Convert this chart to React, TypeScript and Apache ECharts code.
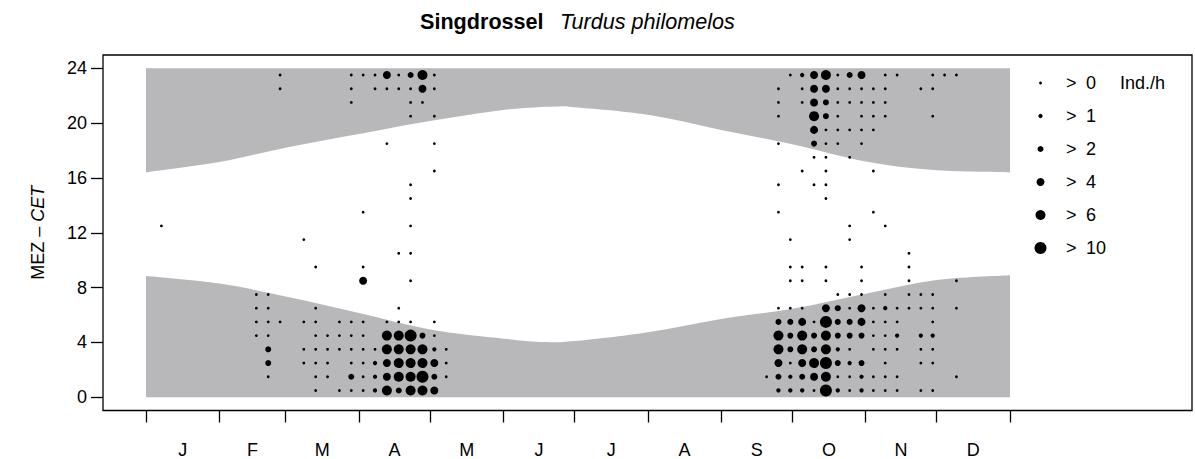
import React, { useEffect, useRef } from "react";
import * as echarts from "echarts";

// ---------- axis data ----------
const MONTH_LABELS = ["J", "F", "M", "A", "M", "J", "J", "A", "S", "O", "N", "D"];
const MONTH_START_DAYS = [0, 31, 59, 90, 120, 151, 181, 212, 243, 273, 304, 334, 365];
const HOUR_TICKS = [0, 4, 8, 12, 16, 20, 24];

// ---------- night band (CET hours) ----------
const SUNRISE_DAYS = [0, 31, 59, 90, 120, 151, 168, 181, 212, 243, 273, 304, 334, 365];
const SUNRISE_HOURS = [8.85, 8.3, 7.35, 6.15, 4.95, 4.28, 4.03, 4.1, 4.75, 5.72, 6.45, 7.55, 8.55, 8.9];
const SUNSET_DAYS = [0, 31, 59, 90, 120, 151, 173, 181, 212, 243, 273, 304, 334, 365];
const SUNSET_HOURS = [16.4, 17.15, 18.2, 19.2, 20.15, 20.95, 21.2, 21.15, 20.6, 19.5, 18.45, 17.2, 16.55, 16.4];

// ---------- observations: [pentad index (0-72), hour of day] per abundance class ----------
const CLASS_SIGNS = [">", ">", ">", ">", ">", ">"];
const CLASS_LIMITS = ["0", "1", "2", "4", "6", "10"];
const CLASS_SIZES = [2.8, 4.3, 6, 8, 10, 12];

const CLASS0: [number, number][] = [
  [1, 12],
  [9, 7], [9, 6], [9, 5], [9, 4],
  [10, 7], [10, 6], [10, 5], [10, 4], [10, 1],
  [11, 23], [11, 22], [11, 5],
  [13, 11], [13, 5], [13, 3], [13, 2],
  [14, 9], [14, 6], [14, 5], [14, 4], [14, 3], [14, 2], [14, 1], [14, 0],
  [15, 4], [15, 3], [15, 2], [15, 1],
  [16, 5], [16, 4], [16, 3], [16, 0],
  [17, 23], [17, 22], [17, 21], [17, 5], [17, 4], [17, 3], [17, 2], [17, 0],
  [18, 23], [18, 13], [18, 9], [18, 5], [18, 4], [18, 3], [18, 2], [18, 1], [18, 0],
  [19, 23], [19, 22], [19, 3],
  [20, 22], [20, 18], [20, 5],
  [21, 23], [21, 22], [21, 10], [21, 6], [21, 5],
  [22, 22], [22, 21], [22, 20], [22, 15], [22, 14], [22, 12], [22, 10], [22, 8], [22, 5],
  [23, 21],
  [24, 23], [24, 22], [24, 20], [24, 18], [24, 16], [24, 5], [24, 4],
  [25, 3], [25, 2], [25, 1],
  [52, 1],
  [53, 22], [53, 21], [53, 20], [53, 18], [53, 15], [53, 13], [53, 6],
  [54, 23], [54, 11], [54, 9], [54, 8], [54, 6], [54, 2],
  [55, 22], [55, 21], [55, 16], [55, 9], [55, 8], [55, 6],
  [56, 17], [56, 15], [56, 5], [56, 0],
  [57, 19], [57, 18], [57, 17], [57, 16], [57, 15], [57, 14], [57, 9], [57, 8],
  [58, 23], [58, 22], [58, 21], [58, 20], [58, 19], [58, 18], [58, 7], [58, 1],
  [59, 22], [59, 21], [59, 19], [59, 17], [59, 12], [59, 11], [59, 7], [59, 6], [59, 3], [59, 1], [59, 0],
  [60, 22], [60, 21], [60, 20], [60, 19], [60, 18], [60, 9], [60, 8], [60, 7],
  [61, 22], [61, 21], [61, 20], [61, 19], [61, 16], [61, 13], [61, 6], [61, 5], [61, 4], [61, 3], [61, 1], [61, 0],
  [62, 23], [62, 22], [62, 21], [62, 20], [62, 12], [62, 7], [62, 5], [62, 4], [62, 3], [62, 2], [62, 1], [62, 0],
  [63, 23], [63, 6], [63, 5], [63, 3], [63, 1], [63, 0],
  [64, 10], [64, 9], [64, 8], [64, 7], [64, 6],
  [65, 22], [65, 7], [65, 6], [65, 3], [65, 2], [65, 0],
  [66, 23], [66, 22], [66, 20], [66, 7], [66, 6], [66, 5], [66, 3], [66, 2], [66, 0],
  [67, 23],
  [68, 23], [68, 8], [68, 6], [68, 1],
];
const CLASS1: [number, number][] = [
  [19, 2], [19, 1], [19, 0], [24, 3],
  [55, 23], [62, 6], [63, 4], [65, 4], [66, 4], [58, 3], [59, 2], [54, 1], [60, 1],
  [53, 0], [54, 0], [55, 0], [58, 0], [60, 0],
];
const CLASS2: [number, number][] = [
  [10, 3], [10, 2], [17, 1], [22, 23], [23, 4], [24, 1], [21, 0],
  [59, 23], [57, 21], [57, 20], [56, 18], [58, 6], [58, 5], [58, 4], [58, 2],
  [53, 5], [54, 5], [59, 5], [54, 4], [56, 4], [59, 4], [60, 4], [54, 3], [56, 3],
  [60, 2], [53, 1], [55, 1],
];
const CLASS3: [number, number][] = [
  [18, 8], [20, 23], [20, 2], [20, 1], [23, 22], [24, 2], [24, 0],
  [56, 23], [56, 22], [56, 21], [56, 19], [60, 23], [57, 22], [57, 6], [60, 6],
  [55, 5], [60, 5], [53, 2], [55, 2], [56, 1],
];
const CLASS4: [number, number][] = [
  [20, 4], [20, 3], [20, 0], [21, 4], [21, 3], [21, 2], [21, 1],
  [22, 3], [22, 2], [22, 1], [22, 0], [23, 23], [23, 3], [23, 2], [23, 0],
  [57, 23], [56, 20], [53, 4], [55, 4], [57, 4], [53, 3], [55, 3], [57, 3], [56, 2], [57, 1],
];
const CLASS5: [number, number][] = [
  [22, 4], [23, 1],
  [57, 5], [57, 2], [57, 0],
];
const CLASSES = [CLASS0, CLASS1, CLASS2, CLASS3, CLASS4, CLASS5];

// ---------- layout / style ----------
const FONT = "'Liberation Sans', Arial, Helvetica, sans-serif";
const GREY = "#b8b8ba";
const LEGEND_Y = [83, 116, 149, 182, 215, 248];
const PENTAD_LEN = 5.013; // days per pentad column
const PENTAD_OFFSET = 1.5; // day position of first column

const monthMids = MONTH_LABELS.map((_, i) => (MONTH_START_DAYS[i] + MONTH_START_DAYS[i + 1]) / 2);

// smooth (Catmull-Rom) path through the band edge points (pixel space), closed to a base hour
function bandPath(api: any, days: number[], hours: number[], baseHour: number): string {
  const pts = days.map((d, i) => api.coord([d, hours[i]]) as number[]);
  const b0 = api.coord([days[0], baseHour]);
  const b1 = api.coord([days[days.length - 1], baseHour]);
  let d = `M${b0[0]},${b0[1]} L${pts[0][0]},${pts[0][1]}`;
  for (let i = 0; i < pts.length - 1; i++) {
    const p0 = pts[Math.max(0, i - 1)];
    const p1 = pts[i];
    const p2 = pts[i + 1];
    const p3 = pts[Math.min(pts.length - 1, i + 2)];
    const c1x = p1[0] + (p2[0] - p0[0]) / 6;
    const c1y = p1[1] + (p2[1] - p0[1]) / 6;
    const c2x = p2[0] - (p3[0] - p1[0]) / 6;
    const c2y = p2[1] - (p3[1] - p1[1]) / 6;
    d += ` C${c1x},${c1y} ${c2x},${c2y} ${p2[0]},${p2[1]}`;
  }
  d += ` L${b1[0]},${b1[1]} Z`;
  return d;
}

function buildOption(): any {
  const series: any[] = [
    {
      type: "custom",
      silent: true,
      clip: false,
      z: 1,
      data: [[0, 0]],
      renderItem: (_p: any, api: any) => ({
        type: "path",
        shape: { pathData: bandPath(api, SUNRISE_DAYS, SUNRISE_HOURS, 0) },
        style: { fill: GREY, stroke: null },
      }),
    },
    {
      type: "custom",
      silent: true,
      clip: false,
      z: 1,
      data: [[0, 24]],
      renderItem: (_p: any, api: any) => ({
        type: "path",
        shape: { pathData: bandPath(api, SUNSET_DAYS, SUNSET_HOURS, 24) },
        style: { fill: GREY, stroke: null },
      }),
    },
  ];
  CLASSES.forEach((pts, c) => {
    series.push({
      type: "scatter",
      name: CLASS_SIGNS[c] + " " + CLASS_LIMITS[c],
      data: pts.map(([p, h]) => [p * PENTAD_LEN + PENTAD_OFFSET, h + 0.5]),
      symbol: "circle",
      symbolSize: CLASS_SIZES[c],
      itemStyle: { color: "#000", opacity: 1 },
      silent: true,
      z: 3,
    });
  });

  const TITLE_SIZE = 21.6;
  const graphic: any[] = [
    {
      type: "text",
      x: 420,
      y: 21,
      z: 10,
      style: { text: "Singdrossel", fontFamily: FONT, fontSize: TITLE_SIZE, fontWeight: "bold", fill: "#000", align: "left", verticalAlign: "middle" },
    },
    {
      type: "text",
      x: 560,
      y: 21,
      z: 10,
      style: { text: "Turdus philomelos", fontFamily: FONT, fontSize: TITLE_SIZE, fontStyle: "italic", fill: "#000", align: "left", verticalAlign: "middle" },
    },
    {
      type: "text",
      x: 1120,
      y: LEGEND_Y[0],
      z: 10,
      style: { text: "Ind./h", fontFamily: FONT, fontSize: 18, fill: "#000", align: "left", verticalAlign: "middle" },
    },
  ];
  CLASS_LIMITS.forEach((lim, c) => {
    graphic.push({
      type: "circle",
      z: 10,
      shape: { cx: 1040.5, cy: LEGEND_Y[c], r: CLASS_SIZES[c] / 2 },
      style: { fill: "#000" },
    });
    graphic.push({
      type: "text",
      x: 1066,
      y: LEGEND_Y[c],
      z: 10,
      style: { text: CLASS_SIGNS[c], fontFamily: FONT, fontSize: 18, fill: "#000", align: "left", verticalAlign: "middle" },
    });
    graphic.push({
      type: "text",
      x: 1086,
      y: LEGEND_Y[c],
      z: 10,
      style: { text: lim, fontFamily: FONT, fontSize: 18, fill: "#000", align: "left", verticalAlign: "middle" },
    });
  });

  return {
    animation: false,
    backgroundColor: "#fff",
    textStyle: { fontFamily: FONT },
    grid: {
      left: 103,
      top: 55,
      width: 1089,
      height: 355.5,
      show: true,
      borderColor: "#000",
      borderWidth: 1.3,
      backgroundColor: "transparent",
    },
    xAxis: {
      type: "value",
      min: -18.17,
      max: 441.9,
      axisLine: { show: false, onZero: false },
      splitLine: { show: false },
      axisTick: {
        show: true,
        inside: false,
        length: 12,
        customValues: MONTH_START_DAYS,
        lineStyle: { color: "#000", width: 1.3 },
      },
      axisLabel: {
        show: true,
        customValues: monthMids,
        margin: 30,
        fontSize: 18,
        color: "#000",
        fontFamily: FONT,
        formatter: (v: number) => {
          let best = 0;
          monthMids.forEach((m, i) => {
            if (Math.abs(m - v) < Math.abs(monthMids[best] - v)) best = i;
          });
          return MONTH_LABELS[best];
        },
      },
    },
    yAxis: {
      type: "value",
      min: -0.96,
      max: 24.96,
      name: "MEZ – {i|CET}",
      nameLocation: "middle",
      nameRotate: 90,
      nameGap: 56,
      nameTextStyle: {
        fontSize: 18,
        color: "#000",
        fontFamily: FONT,
        rich: { i: { fontSize: 18, fontStyle: "italic", color: "#000", fontFamily: FONT } },
      },
      axisLine: { show: false, onZero: false },
      splitLine: { show: false },
      axisTick: {
        show: true,
        inside: false,
        length: 12,
        customValues: HOUR_TICKS,
        lineStyle: { color: "#000", width: 1.3 },
      },
      axisLabel: {
        show: true,
        customValues: HOUR_TICKS,
        margin: 16,
        fontSize: 18,
        color: "#000",
        fontFamily: FONT,
      },
    },
    series,
    graphic,
  };
}

export default function App() {
  const ref = useRef<HTMLDivElement>(null);
  useEffect(() => {
    document.body.style.margin = "0";
    const chart = echarts.init(ref.current as HTMLDivElement, null, { renderer: "svg" });
    chart.setOption(buildOption());
    return () => chart.dispose();
  }, []);
  return <div ref={ref} style={{ width: 1195, height: 459 }} />;
}
